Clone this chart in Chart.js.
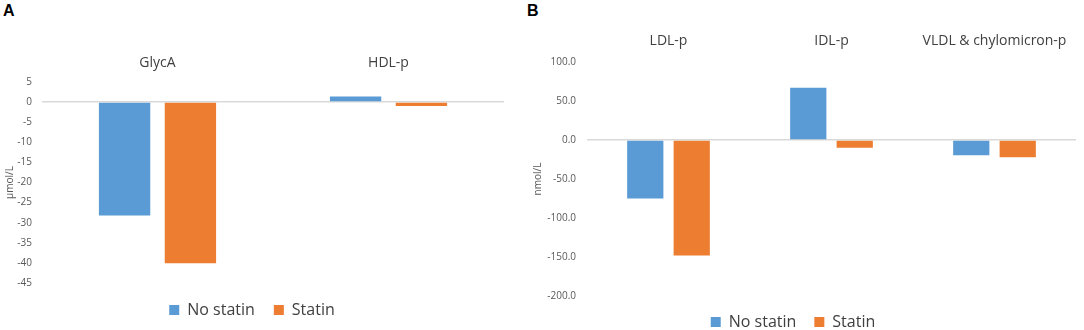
<!DOCTYPE html>
<html>
<head>
<meta charset="utf-8">
<script src="https://cdn.jsdelivr.net/npm/chart.js@4/dist/chart.umd.min.js"></script>
<style>
  body { margin: 0; background: #fff; overflow: hidden; width: 1084px; height: 330px; position: relative; }
  .panel { position: absolute; top: 0; }
  .tag { position: absolute; top: 2px; font: bold 16px "Liberation Sans", Arial, sans-serif; color: #000; }
</style>
</head>
<body>
<div class="tag" style="left:3px">A</div>
<div class="tag" style="left:527px">B</div>
<div class="panel" style="left:0"><canvas id="chartA" width="506" height="336"></canvas></div>
<div class="panel" style="left:510px"><canvas id="chartB" width="574" height="346"></canvas></div>
<script>
// panel A
const labelsA = ['GlycA', 'HDL-p'];
const noStatinA = [-28.2, 1.4];
const statinA = [-40.1, -1.0];
const ticksA = { min: -45, max: 5, step: 5 };

// panel B
const labelsB = ['LDL-p', 'IDL-p', 'VLDL & chylomicron-p'];
const noStatinB = [-75, 67, -19.5];
const statinB = [-148, -10, -22];
const ticksB = { min: -200, max: 100, step: 50 };

const seriesNames = ['No statin', 'Statin'];
const blue = '#5b9bd5';
const orange = '#ed7d31';
const font = '"Open Sans", "DejaVu Sans", sans-serif';

function makeChart(id, labels, s1, s2, range, unit, o) {
  return new Chart(document.getElementById(id), {
    type: 'bar',
    data: {
      labels: labels,
      datasets: [
        { label: seriesNames[0], data: s1, backgroundColor: blue },
        { label: seriesNames[1], data: s2, backgroundColor: orange }
      ]
    },
    options: {
      responsive: false,
      devicePixelRatio: 1,
      animation: false,
      datasets: { bar: { categoryPercentage: 0.57, barPercentage: 0.78 } },
      layout: { padding: { top: o.padTop, left: 0, right: o.padRight, bottom: o.padBottom } },
      plugins: {
        tooltip: { enabled: false },
        legend: {
          position: 'bottom',
          labels: {
            boxWidth: 10, boxHeight: 10, padding: o.legendPad,
            color: '#404040', font: { family: font, size: 16 }
          }
        }
      },
      scales: {
        x: {
          position: 'top',
          grid: { display: false, drawTicks: false },
          border: { display: false },
          ticks: { padding: o.xPad, color: '#404040', font: { family: font, size: 14 } },
          afterFit: s => { s.height = o.xHeight; }
        },
        y: {
          min: range.min, max: range.max,
          ticks: {
            stepSize: range.step, padding: o.yPad, color: '#595959',
            font: { family: font, size: 10 },
            callback: v => o.decimals ? v.toFixed(1) : v
          },
          grid: {
            drawTicks: false, lineWidth: 1.5,
            color: c => c.tick && c.tick.value === 0 ? '#d9d9d9' : 'rgba(0,0,0,0)'
          },
          border: { display: false },
          title: {
            display: true, text: unit, color: '#595959',
            font: { family: font, size: 10 }, padding: { top: o.titlePad, bottom: 0 }
          },
          afterFit: s => { s.width = o.yWidth; }
        }
      }
    }
  });
}

makeChart('chartA', labelsA, noStatinA, statinA, ticksA, 'µmol/L',
  { padTop: 42, padRight: 2, padBottom: 8, legendPad: 19, xHeight: 40, xPad: 11,
    yWidth: 42, yPad: 10, titlePad: 4, decimals: false });

makeChart('chartB', labelsB, noStatinB, statinB, ticksB, 'nmol/L',
  { padTop: 22, padRight: 8, padBottom: 6, legendPad: 18, xHeight: 40, xPad: 13,
    yWidth: 77, yPad: 11, titlePad: 22, decimals: true });
</script>
</body>
</html>
